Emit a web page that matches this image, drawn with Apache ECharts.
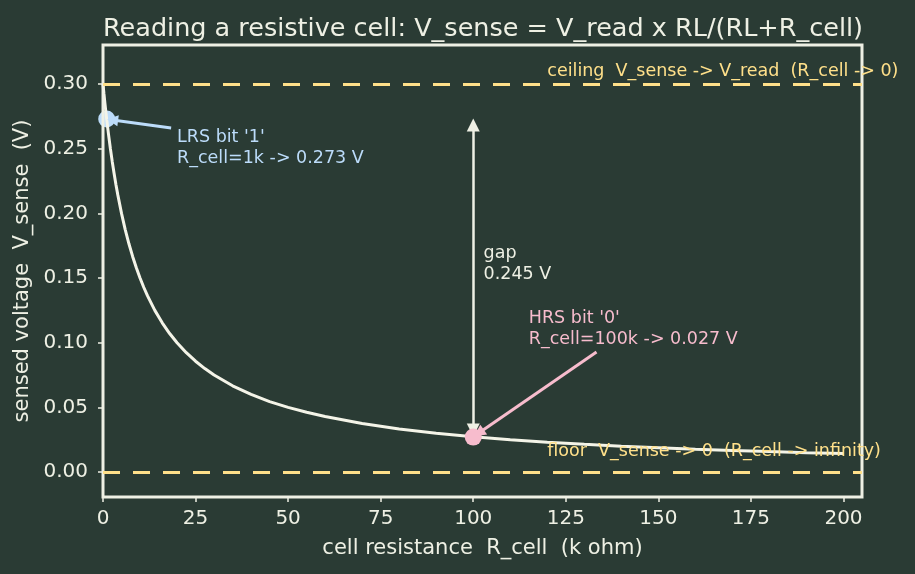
<!DOCTYPE html>
<html>
<head>
<meta charset="utf-8">
<script src="https://cdn.jsdelivr.net/npm/echarts@6/dist/echarts.min.js"></script>
<style>
html,body{margin:0;padding:0;background:#2a3b34;}
#c{width:915px;height:574px;}
</style>
</head>
<body>
<div id="c"></div>
<script>
// R_cell (k ohm) and sensed voltage V_sense (V)
const rCell = [0, 0.25, 0.5, 0.75, 1, 1.5, 2, 2.5, 3, 3.5, 4, 5, 6, 7, 8, 9, 10, 11, 12, 14, 16, 18, 20, 22.5, 25, 27.5, 30, 35, 40, 45, 50, 55, 60, 70, 80, 90, 100, 110, 120, 130, 140, 150, 160, 170, 180, 190, 200];
const vSense = [0.300, 0.2927, 0.2857, 0.2791, 0.2727, 0.2609, 0.250, 0.240, 0.2308, 0.2222, 0.2143, 0.200, 0.1875, 0.1765, 0.1667, 0.1579, 0.150, 0.1429, 0.1364, 0.125, 0.1154, 0.1071, 0.100, 0.0923, 0.0857, 0.080, 0.075, 0.0667, 0.060, 0.0545, 0.050, 0.0462, 0.0429, 0.0375, 0.0333, 0.030, 0.0273, 0.025, 0.0231, 0.0214, 0.020, 0.0188, 0.0176, 0.0167, 0.0158, 0.015, 0.0143];

const lrsPoint = [1, 0.273];
const hrsPoint = [100, 0.027];
const ceilingV = 0.30;
const floorV = 0.0;

const xTicks = [0, 25, 50, 75, 100, 125, 150, 175, 200];
const yTicks = [0, 0.05, 0.10, 0.15, 0.20, 0.25, 0.30];

const lrsText = "LRS bit '1'\nR_cell=1k -> 0.273 V";
const hrsText = "HRS bit '0'\nR_cell=100k -> 0.027 V";
const gapText = "gap\n0.245 V";
const ceilingText = "ceiling  V_sense -> V_read  (R_cell -> 0)";
const floorText = "floor  V_sense -> 0  (R_cell -> infinity)";

// annotation anchor positions (data coords)
const lrsLabelAt = [20, 0.2505];
const hrsLabelAt = [115, 0.1106];
const gapLabelAt = [102.8, 0.1610];
const ceilingLabelAt = [120, 0.3094];
const floorLabelAt = [120, 0.0162];

// arrows (data coords)
const lrsArrow = [[18.4, 0.266], [2.6, 0.2722]];
const hrsArrow = [[133.3, 0.0928], [101.5, 0.0302]];
const gapArrow = [[100, 0.0325], [100, 0.2684]];

const FG = '#eef0e4';
const YEL = '#ffe08a';
const BLUE = '#bcdcfa';
const PINK = '#f7bccd';
const FONT = 'DejaVu Sans';

const chart = echarts.init(document.getElementById('c'), null, {renderer: 'canvas'});

function textPoint(pos, text, color) {
  return {
    value: pos,
    label: {
      show: true, position: 'right', distance: 0, formatter: text,
      color: color, fontFamily: FONT, fontSize: 17.5, lineHeight: 21, align: 'left'
    }
  };
}

chart.setOption({
  backgroundColor: '#2a3b34',
  animation: false,
  title: {
    text: 'Reading a resistive cell: V_sense = V_read x RL/(RL+R_cell)',
    left: 478, top: 11, textAlign: 'center',
    textStyle: {color: FG, fontFamily: FONT, fontSize: 25.5, fontWeight: 'normal'}
  },
  grid: {
    left: 103, right: 53, top: 45, bottom: 77,
    show: true, borderColor: FG, borderWidth: 3, backgroundColor: 'transparent'
  },
  xAxis: {
    type: 'value', min: 0, max: 205,
    name: 'cell resistance  R_cell  (k ohm)', nameLocation: 'middle', nameGap: 41,
    nameTextStyle: {color: FG, fontFamily: FONT, fontSize: 21},
    axisLine: {show: false, onZero: false},
    axisTick: {show: true, inside: false, length: 5, lineStyle: {color: FG, width: 1.5}, customValues: xTicks},
    axisLabel: {color: FG, fontFamily: FONT, fontSize: 20, margin: 12, customValues: xTicks},
    splitLine: {show: false}
  },
  yAxis: {
    type: 'value', min: -0.0193, max: 0.3302,
    name: 'sensed voltage  V_sense  (V)', nameLocation: 'middle', nameGap: 70,
    nameTextStyle: {color: FG, fontFamily: FONT, fontSize: 21},
    axisLine: {show: false, onZero: false},
    axisTick: {show: true, inside: false, length: 5, lineStyle: {color: FG, width: 1.5}, customValues: yTicks},
    axisLabel: {color: FG, fontFamily: FONT, fontSize: 20, margin: 15, customValues: yTicks,
      formatter: v => v.toFixed(2)},
    splitLine: {show: false}
  },
  series: [
    {
      type: 'line', name: 'V_sense',
      data: rCell.map((r, i) => [r, vSense[i]]),
      smooth: false,
      showSymbol: false, symbol: 'none',
      lineStyle: {color: '#f4f4e8', width: 3},
      z: 3,
      markLine: {
        silent: true, symbol: ['none', 'none'], label: {show: false},
        lineStyle: {color: YEL, width: 3, type: [17, 13]},
        data: [{yAxis: ceilingV}, {yAxis: floorV}]
      }
    },
    {
      type: 'line', name: 'arrows', data: [], z: 4,
      markLine: {
        silent: true, label: {show: false},
        symbol: ['none', 'triangle'], symbolSize: 13,
        lineStyle: {type: 'solid'},
        data: [
          [{coord: lrsArrow[0], symbol: 'none', lineStyle: {color: BLUE, width: 3, type: 'solid'}},
           {coord: lrsArrow[1], symbol: 'triangle', symbolSize: 11}],
          [{coord: hrsArrow[0], symbol: 'none', lineStyle: {color: PINK, width: 3, type: 'solid'}},
           {coord: hrsArrow[1], symbol: 'triangle', symbolSize: 12}],
          [{coord: gapArrow[0], symbol: 'triangle', lineStyle: {color: FG, width: 2.5, type: 'solid'}},
           {coord: gapArrow[1], symbol: 'triangle'}]
        ]
      }
    },
    {
      type: 'scatter', name: 'LRS', data: [lrsPoint], symbolSize: 17,
      itemStyle: {color: BLUE, opacity: 1}, z: -1
    },
    {
      type: 'scatter', name: 'HRS', data: [hrsPoint], symbolSize: 17,
      itemStyle: {color: PINK, opacity: 1}, z: 5
    },
    {
      type: 'scatter', name: 'labels', symbolSize: 0, z: 6, silent: true,
      itemStyle: {opacity: 1},
      data: [
        textPoint(lrsLabelAt, lrsText, BLUE),
        textPoint(hrsLabelAt, hrsText, PINK),
        textPoint(gapLabelAt, gapText, FG),
        textPoint(ceilingLabelAt, ceilingText, YEL),
        textPoint(floorLabelAt, floorText, YEL)
      ]
    }
  ]
});
</script>
</body>
</html>
